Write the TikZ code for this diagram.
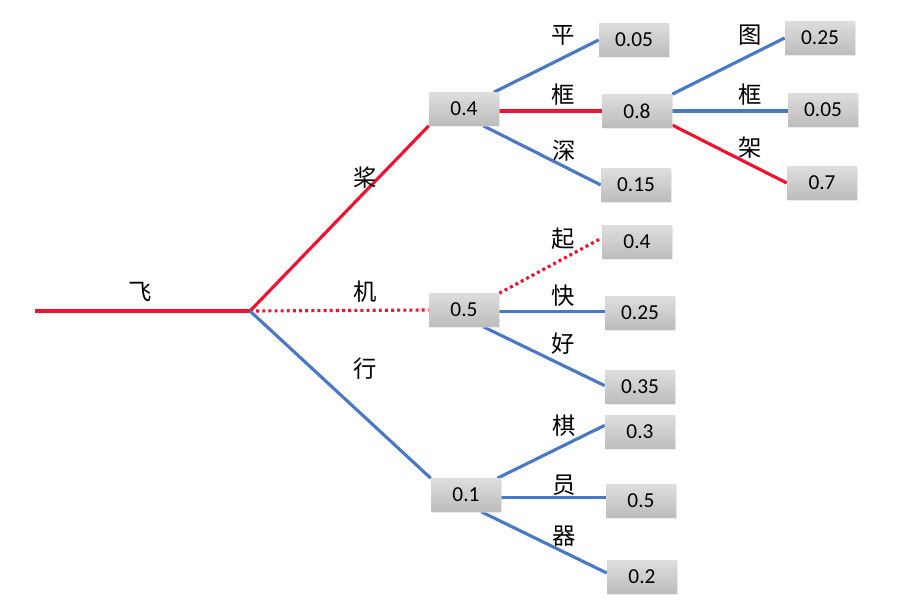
\documentclass[tikz,border=0pt]{standalone}
\usepackage{fontspec}
\setmainfont{Carlito}
\newfontfamily\cjk{Noto Sans CJK SC}
\usetikzlibrary{shadows,backgrounds}
\definecolor{lnred}{HTML}{F5102E}
\definecolor{lnblue}{HTML}{4A78C8}
\definecolor{boxtop}{HTML}{DDDDDD}
\definecolor{boxbot}{HTML}{BDBDBD}
\tikzset{
  prob/.style={rectangle, minimum width=52.5pt, minimum height=24.75pt, inner sep=0pt,
    top color=boxtop, bottom color=boxbot, draw=none,
    drop shadow={shadow xshift=0.8pt, shadow yshift=-0.8pt, fill=gray!30, opacity=0.5},
    font=\fontsize{16}{18}\selectfont},
  word/.style={font=\cjk\fontsize{17.5}{19}\selectfont, inner sep=0pt},
  redln/.style={draw=lnred, line width=2.35pt},
  blueln/.style={draw=lnblue, line width=2.35pt},
  dotln/.style={draw=lnred, line width=2.35pt, dash pattern=on 2.2pt off 2.4pt}
}
\begin{document}
\begin{tikzpicture}[x=0.75pt, y=-0.75pt]
\useasboundingbox (0,0) rectangle (915,611);
% coordinates
\coordinate (start) at (35,311);
\coordinate (hub) at (250,311);
% boxes
\node[prob] (b04) at (464,109) {0.4};
\node[prob] (b05) at (464,310) {0.5};
\node[prob] (b01) at (466,495) {0.1};
\node[prob] (c005) at (634,40) {0.05};
\node[prob] (c08) at (637,111) {0.8};
\node[prob] (c015) at (636,185) {0.15};
\node[prob] (c04) at (637,242) {0.4};
\node[prob] (c025) at (640,313) {0.25};
\node[prob] (c035) at (640,387) {0.35};
\node[prob] (c03) at (640,432) {0.3};
\node[prob] (c05) at (641,501) {0.5};
\node[prob] (c02) at (642,577) {0.2};
\node[prob] (d025) at (820,38) {0.25};
\node[prob] (d005) at (823,110) {0.05};
\node[prob] (d07) at (822,183) {0.7};
% connectors (behind boxes)
\begin{scope}[on background layer]
\draw[redln] (start) -- (hub);
\draw[redln] (hub) -- (b04.south west);
\draw[dotln] (hub) -- (b05.west);
\draw[blueln] (hub) -- (b01.north west);
\draw[blueln] ([xshift=-4pt]b04.north east) -- (c005.west);
\draw[redln] ([yshift=-1.5pt]b04.east) -- ([yshift=-1.5pt]b04.east -| c08.west);
\draw[blueln] ([xshift=-12pt]b04.south east) -- (c015.west);
\draw[blueln] (c08.north east) -- (d025.west);
\draw[blueln] (c08.east) -- (c08.east -| d005.west);
\draw[redln] ([yshift=2pt]c08.south east) -- (d07.west);
\draw[dotln] (b05.north east) -- ([yshift=3pt]c04.west);
\draw[blueln] ([yshift=-1pt]b05.east) -- ([yshift=-1pt]b05.east -| c025.west);
\draw[blueln] ([xshift=-12pt]b05.south east) -- ([yshift=1pt]c035.west);
\draw[blueln] ([xshift=-3pt]b01.north east) -- ([yshift=5pt]c03.west);
\draw[blueln] ([yshift=-2pt]b01.east) -- ([yshift=-2pt]b01.east -| c05.west);
\draw[blueln] ([xshift=-15pt]b01.south east) -- ([yshift=3pt]c02.west);
\end{scope}
% labels
\node[word] (w1) at (140,292) {飞};
\node[word] (w2) at (365,178) {桨};
\node[word] (w3) at (365,292) {机};
\node[word] (w4) at (365,369) {行};
\node[word] (w5) at (563,35) {平};
\node[word] (w6) at (563,95) {框};
\node[word] (w7) at (564,151) {深};
\node[word] (w8) at (750,35) {图};
\node[word] (w9) at (750,95) {框};
\node[word] (w10) at (750,148) {架};
\node[word] (w11) at (563,239) {起};
\node[word] (w12) at (563,296) {快};
\node[word] (w13) at (563,344) {好};
\node[word] (w14) at (564,426) {棋};
\node[word] (w15) at (564,485) {员};
\node[word] (w16) at (564,536) {器};
\end{tikzpicture}
\end{document}
